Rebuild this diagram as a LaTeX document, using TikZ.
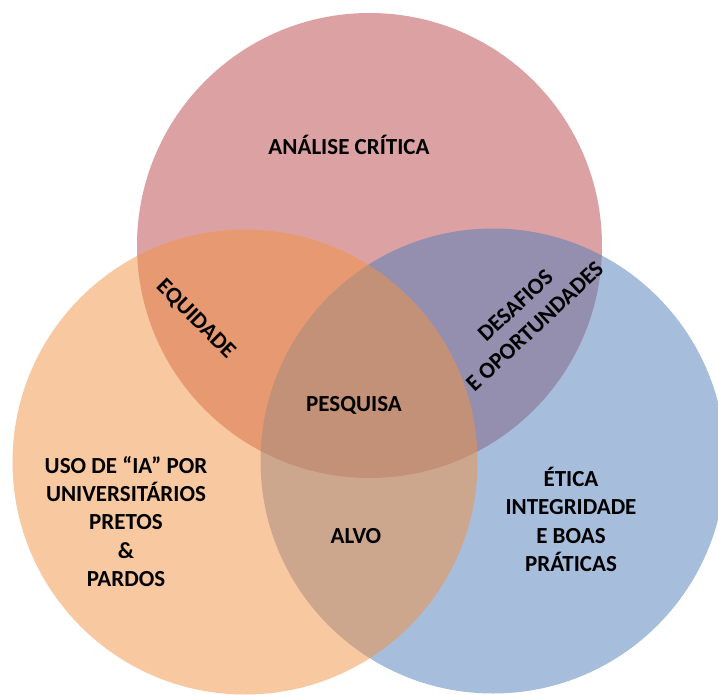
\documentclass[tikz,border=0pt]{standalone}
\usepackage{fontspec}
\setmainfont{Carlito}
\definecolor{rosa}{RGB}{187,71,73}
\definecolor{laranja}{RGB}{242,147,66}
\definecolor{azul}{RGB}{80,125,187}
\tikzset{
	conjunto/.style={circle, minimum size=465pt, inner sep=0pt, fill opacity=0.5},
	rotulo/.style={font=\bfseries\fontsize{23}{28.3}\selectfont, align=center, text=black, inner sep=0pt}
}
\begin{document}
\begin{tikzpicture}[x=1pt,y=-1pt]
	\useasboundingbox (0,0) rectangle (718,695);
	\clip (0,0) rectangle (718,695);
	\fill[white] (0,0) rectangle (718,695);
	% conjuntos
	\node[conjunto, fill=rosa] (critica) at (369.5,245.5) {};
	\node[conjunto, fill=azul] (etica) at (493,461) {};
	\node[conjunto, fill=laranja] (uso) at (245,462) {};
	% rotulos dos conjuntos
	\node[rotulo, anchor=base] (analise) at (349,154.3) {ANÁLISE CRÍTICA};
	\node[rotulo] (universitarios) at (126,521.5) {USO DE “IA” POR\\UNIVERSITÁRIOS\\PRETOS\\\&\\PARDOS};
	\node[rotulo] (praticas) at (571,519.5) {ÉTICA\\INTEGRIDADE\\E BOAS\\PRÁTICAS};
	% intersecoes
	\node[rotulo, anchor=base, rotate=-45] (equidade) at (191.3,323.7) {EQUIDADE};
	\node[rotulo, rotate=43] (desafios) at (525,316) {DESAFIOS\\E OPORTUNDADES};
	\node[rotulo, anchor=base] (alvo) at (356,543) {ALVO};
	\node[rotulo, anchor=base] (pesquisa) at (354,411.5) {PESQUISA};
\end{tikzpicture}
\end{document}
